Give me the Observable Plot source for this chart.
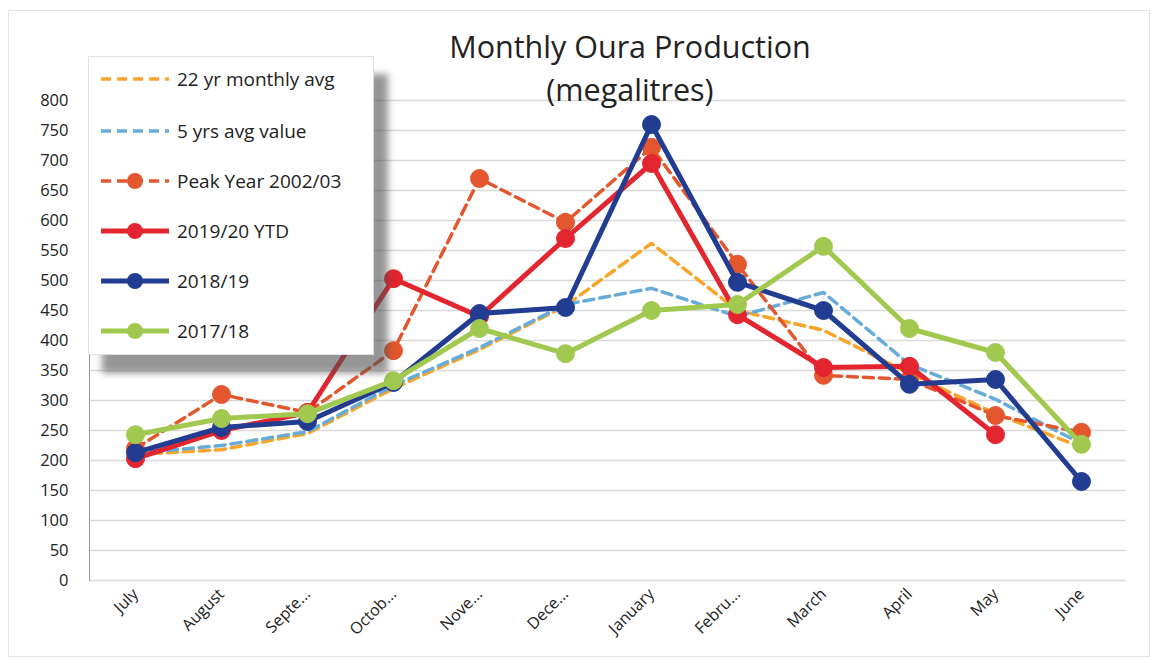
<!DOCTYPE html>
<html>
<head>
<meta charset="utf-8">
<script src="https://cdn.jsdelivr.net/npm/d3@7"></script>
<script src="https://cdn.jsdelivr.net/npm/@observablehq/plot@0.6"></script>
<style>
  body { margin: 0; background: #fff; font-family: "Open Sans", sans-serif; }
  #wrap { position: relative; width: 1156px; height: 665px; overflow: hidden; }
  #border { position: absolute; left: 8px; top: 10px; right: 6px; bottom: 8px; border: 1px solid #e4e4e4; pointer-events: none; }
  #title { position: absolute; left: 380px; width: 500px; top: 25px; text-align: center; font-size: 30.5px; line-height: 43px; color: #222; }
  #legend { position: absolute; left: 88px; top: 56px; width: 284px; height: 297px; background: #fff; border: 1px solid #e0e0e0;
            box-shadow: 14px 18px 7px rgba(80,80,80,0.6); }
  .row { position: absolute; left: 0; height: 24px; display: flex; align-items: center; }
  .row svg { margin-left: 10px; }
  .row span { margin-left: 6px; font-size: 19px; color: #222; white-space: nowrap; }
</style>
</head>
<body>
<div id="wrap">
  <div id="chart"></div>
  <div id="border"></div>
  <div id="title">Monthly Oura Production<br>(megalitres)</div>
  <div id="legend"></div>
</div>
<script>
// ---- data ----
const months = ["July", "August", "Septe...", "Octob...", "Nove...", "Dece...", "January", "Febru...", "March", "April", "May", "June"];
const avg22yr   = [210, 218, 245, 320, 385, 458, 562, 450, 417, 345, 278, 222];
const avg5yr    = [212, 225, 248, 325, 388, 460, 487, 440, 480, 360, 302, 228];
const peak0203  = [220, 310, 280, 383, 670, 597, 722, 527, 342, 335, 275, 247];
const ytd1920   = [203, 250, 280, 503, 440, 570, 695, 443, 355, 357, 243, null];
const year1819  = [213, 255, 265, 330, 445, 455, 760, 497, 450, 327, 335, 165];
const year1718  = [243, 270, 278, 333, 420, 378, 450, 460, 557, 420, 380, 227];
const seriesNames = ["22 yr monthly avg", "5 yrs avg value", "Peak Year 2002/03", "2019/20 YTD", "2018/19", "2017/18"];
const yTicks = d3.range(0, 801, 50);

// ---- styles ----
const styles = [
  {values: avg22yr,  color: "#f7a52b", width: 3.5, dash: "10,6", dot: false},
  {values: avg5yr,   color: "#67abd9", width: 3.5, dash: "10,6", dot: false},
  {values: peak0203, color: "#e4572e", width: 3.5, dash: "10,6", dot: true},
  {values: ytd1920,  color: "#e2252f", width: 5,   dash: null,  dot: true},
  {values: year1819, color: "#213c90", width: 5,   dash: null,  dot: true},
  {values: year1718, color: "#a1c94f", width: 5,   dash: null,  dot: true}
];

const rows = [];
styles.forEach((s, i) => s.values.forEach((v, j) => { if (v != null) rows.push({series: seriesNames[i], month: months[j], value: v}); }));

const marks = [
  Plot.gridY(yTicks, {stroke: "#d9d9d9", strokeOpacity: 1, strokeWidth: 1.5}),
  Plot.frame({anchor: "left", stroke: "#9a9a9a"}),
  Plot.axisY(yTicks, {tickSize: 0, tickPadding: 21, fontSize: 16.5, fill: "#222", label: null}),
  Plot.axisX({tickSize: 0, tickPadding: 11, tickRotate: -45, fontSize: 16, fill: "#222", label: null})
];
styles.forEach((s, i) => {
  const d = rows.filter(r => r.series === seriesNames[i]);
  marks.push(Plot.line(d, {x: "month", y: "value", stroke: s.color, strokeWidth: s.width, strokeDasharray: s.dash, curve: "linear"}));
  if (s.dot) marks.push(Plot.dot(d, {x: "month", y: "value", r: 9, fill: s.color, stroke: s.color, strokeWidth: 1}));
});

const chart = Plot.plot({
  width: 1156, height: 665,
  marginLeft: 89, marginRight: 30, marginTop: 100, marginBottom: 85,
  style: {fontFamily: "'Open Sans', sans-serif", background: "transparent"},
  x: {type: "point", domain: months, padding: 0.5},
  y: {domain: [0, 800]},
  marks
});
document.getElementById("chart").appendChild(chart);

// ---- legend ----
const legend = document.getElementById("legend");
const rowTops = [10, 62, 112, 162, 212, 262];
styles.forEach((s, i) => {
  const row = document.createElement("div");
  row.className = "row";
  row.style.top = rowTops[i] + "px";
  const svg = d3.create("svg").attr("width", 72).attr("height", 20);
  svg.append("line").attr("x1", 2).attr("x2", 70).attr("y1", 10).attr("y2", 10)
    .attr("stroke", s.color).attr("stroke-width", s.width).attr("stroke-dasharray", s.dash);
  if (s.dot) svg.append("circle").attr("cx", 36).attr("cy", 10).attr("r", 8).attr("fill", s.color);
  row.appendChild(svg.node());
  const t = document.createElement("span");
  t.textContent = seriesNames[i];
  row.appendChild(t);
  legend.appendChild(row);
});
</script>
</body>
</html>
